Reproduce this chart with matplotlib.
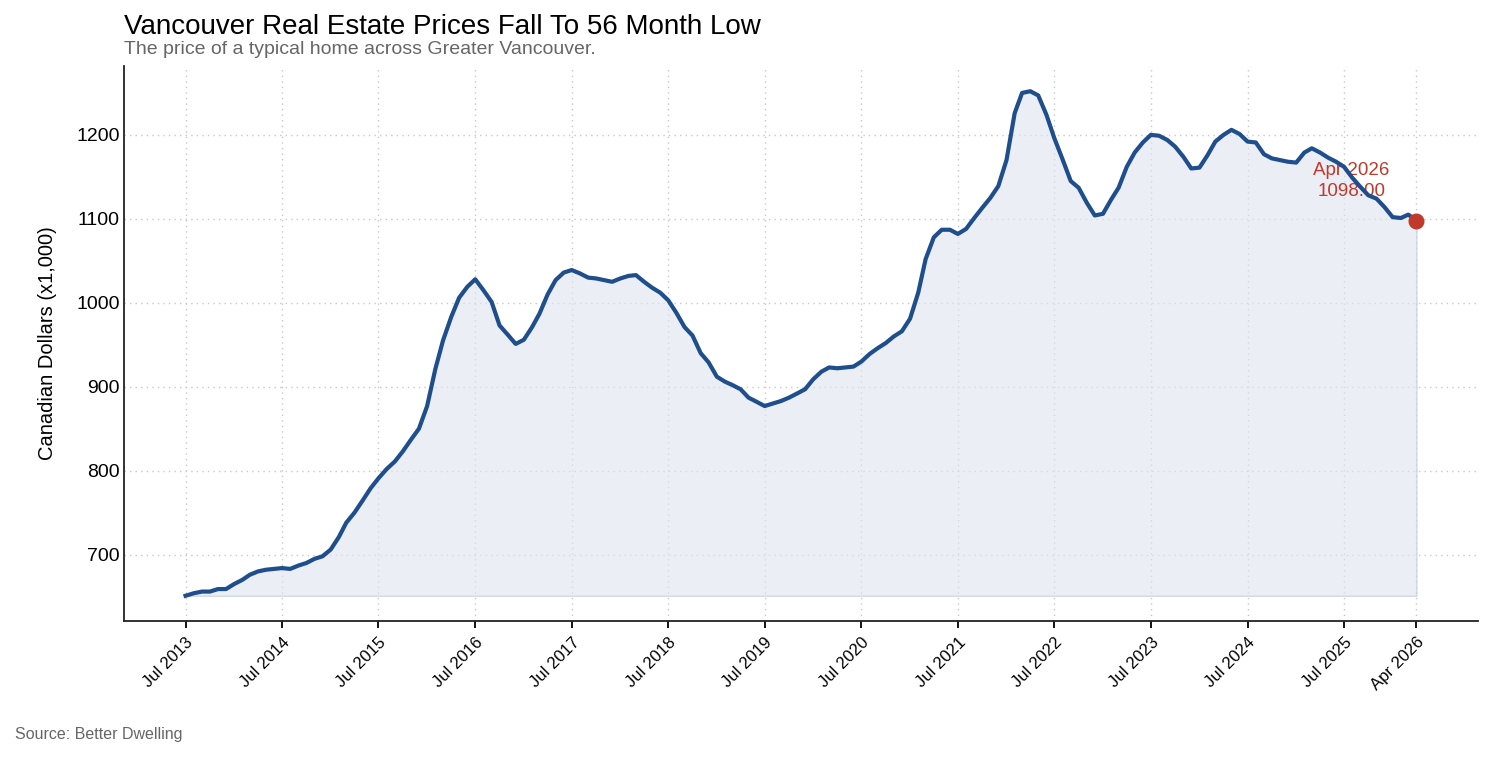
import numpy as np
import pandas as pd
import matplotlib
matplotlib.use('Agg')
import matplotlib.pyplot as plt
import matplotlib.dates as mdates

plt.rcParams['font.family'] = ['Liberation Sans', 'DejaVu Sans']

# monthly benchmark price, Jul 2013 .. Apr 2026 (x1,000 CAD)
dates = pd.date_range('2013-07-01', '2026-04-01', freq='MS')
prices = [
    651, 654, 656, 656, 659, 659, 665, 670, 676, 680, 682, 683,
    684, 683, 687, 690, 695, 698, 706, 721, 738, 750, 764, 779,
    791, 802, 811, 823, 837, 850, 877, 921, 955, 983, 1006, 1019,
    1028, 1015, 1001, 973, 962, 951, 956, 971, 987, 1010, 1027, 1036,
    1039, 1035, 1030, 1029, 1027, 1025, 1029, 1032, 1033, 1025, 1018, 1012,
    1003, 988, 971, 961, 940, 929, 912, 906, 902, 897, 887, 882,
    877, 880, 883, 887, 892, 897, 909, 918, 923, 922, 923, 924,
    930, 939, 946, 952, 960, 966, 981, 1012, 1052, 1078, 1087, 1087,
    1082, 1088, 1101, 1113, 1125, 1139, 1170, 1226, 1250, 1252, 1247, 1224,
    1196, 1171, 1145, 1137, 1119, 1104, 1106, 1123, 1137, 1162, 1179, 1191,
    1200, 1199, 1194, 1186, 1174, 1160, 1161, 1176, 1192, 1200, 1206, 1201,
    1192, 1191, 1177, 1172, 1170, 1168, 1167, 1179, 1184, 1179, 1173, 1168,
    1162, 1149, 1138, 1128, 1124, 1114, 1102, 1101, 1105, 1098,
]
tick_dates = pd.to_datetime(['2013-07-01', '2014-07-01', '2015-07-01', '2016-07-01',
                             '2017-07-01', '2018-07-01', '2019-07-01', '2020-07-01',
                             '2021-07-01', '2022-07-01', '2023-07-01', '2024-07-01',
                             '2025-07-01', '2026-04-01'])
tick_labels = ['Jul 2013', 'Jul 2014', 'Jul 2015', 'Jul 2016', 'Jul 2017', 'Jul 2018',
               'Jul 2019', 'Jul 2020', 'Jul 2021', 'Jul 2022', 'Jul 2023', 'Jul 2024',
               'Jul 2025', 'Apr 2026']

line_col = '#1f4e8c'
red = '#c0392b'

fig = plt.figure(figsize=(14.92, 7.59), dpi=100)
ax = fig.add_axes([124/1492, 1 - 621/759, (1478-124)/1492, (621-66)/759])

ax.fill_between(dates, prices, min(prices), facecolor='#dfe4ee', alpha=0.6,
                edgecolor='#b8c6dc', lw=1, zorder=1)
ax.annotate('Apr 2026\n1098.00', xy=(dates[-1], prices[-1]), xytext=(-47, 15),
            textcoords='offset points', ha='center', va='bottom', color=red,
            fontsize=13.5, linespacing=1.3, zorder=2)
ax.plot(dates, prices, color=line_col, lw=3, zorder=3)
ax.scatter([dates[-1]], [prices[-1]], s=110, color=red, zorder=4)

ax.set_xticks(tick_dates)
ax.set_xticklabels(tick_labels, rotation=45, ha='right', rotation_mode='anchor', fontsize=12)
ax.tick_params(axis='x', length=5, width=1.3, pad=5)
ax.tick_params(axis='y', labelsize=14, length=0, pad=3)
ax.set_yticks([700, 800, 900, 1000, 1100, 1200])

ax.grid(True, ls=(0, (1, 3)), color='#c8c8c8', lw=1)
ax.set_axisbelow(True)
for s in ['top', 'right']:
    ax.spines[s].set_visible(False)
for s in ['left', 'bottom']:
    ax.spines[s].set_linewidth(1.3)
    ax.spines[s].set_color('#222222')

ax.set_ylabel('Canadian Dollars (x1,000)', fontsize=14.5, labelpad=14)

fig.text(124/1492, 1 - 27/759, 'Vancouver Real Estate Prices Fall To 56 Month Low',
         fontsize=20, va='center', ha='left')
fig.text(124/1492, 1 - 49/759, 'The price of a typical home across Greater Vancouver.',
         fontsize=14, va='center', ha='left', color='#666666')
fig.text(15/1492, 1 - 735/759, 'Source: Better Dwelling', fontsize=11.5, va='center',
         ha='left', color='#666666')

fig.savefig('out.png', dpi=100)
